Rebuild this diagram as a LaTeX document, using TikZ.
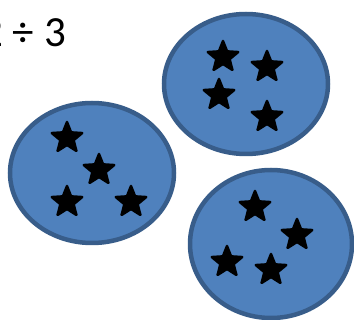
\documentclass[tikz,border=0pt]{standalone}
\usepackage{fontspec}
\setmainfont{Carlito}
\usetikzlibrary{shapes.geometric}
\definecolor{grpfill}{HTML}{4F81BD}
\definecolor{grpline}{HTML}{385D8A}
\begin{document}
\begin{tikzpicture}[x=1pt,y=-1pt,
  group/.style={ellipse, fill=grpfill, draw=grpline, line width=4.5pt, inner sep=0pt},
  starmark/.style={star, star points=5, star point ratio=2.3, fill=black, draw=black,
    line width=2.5pt, line join=round, minimum size=32pt, inner sep=0pt}]
\useasboundingbox (0,0) rectangle (354,320);
\clip (0,0) rectangle (354,320);
\node[anchor=base east, inner sep=0pt, font=\fontsize{43}{50}\selectfont] (title) at (66,47) {2 ÷ 3};
\node[group, minimum width=164pt, minimum height=140pt] (g1) at (246,84) {};
\node[group, minimum width=164pt, minimum height=140pt] (g2) at (92,173) {};
\node[group, minimum width=162pt, minimum height=148pt] (g3) at (271,244) {};
\node[starmark] (s11) at (223,57) {};
\node[starmark] (s12) at (267,67) {};
\node[starmark] (s13) at (219,95) {};
\node[starmark] (s14) at (267,117) {};
\node[starmark] (s21) at (67,138) {};
\node[starmark] (s22) at (99,170) {};
\node[starmark] (s23) at (67,202) {};
\node[starmark] (s24) at (131,202) {};
\node[starmark] (s31) at (255,207) {};
\node[starmark] (s32) at (297,235) {};
\node[starmark] (s33) at (227,262) {};
\node[starmark] (s34) at (271,270) {};
\end{tikzpicture}
\end{document}
